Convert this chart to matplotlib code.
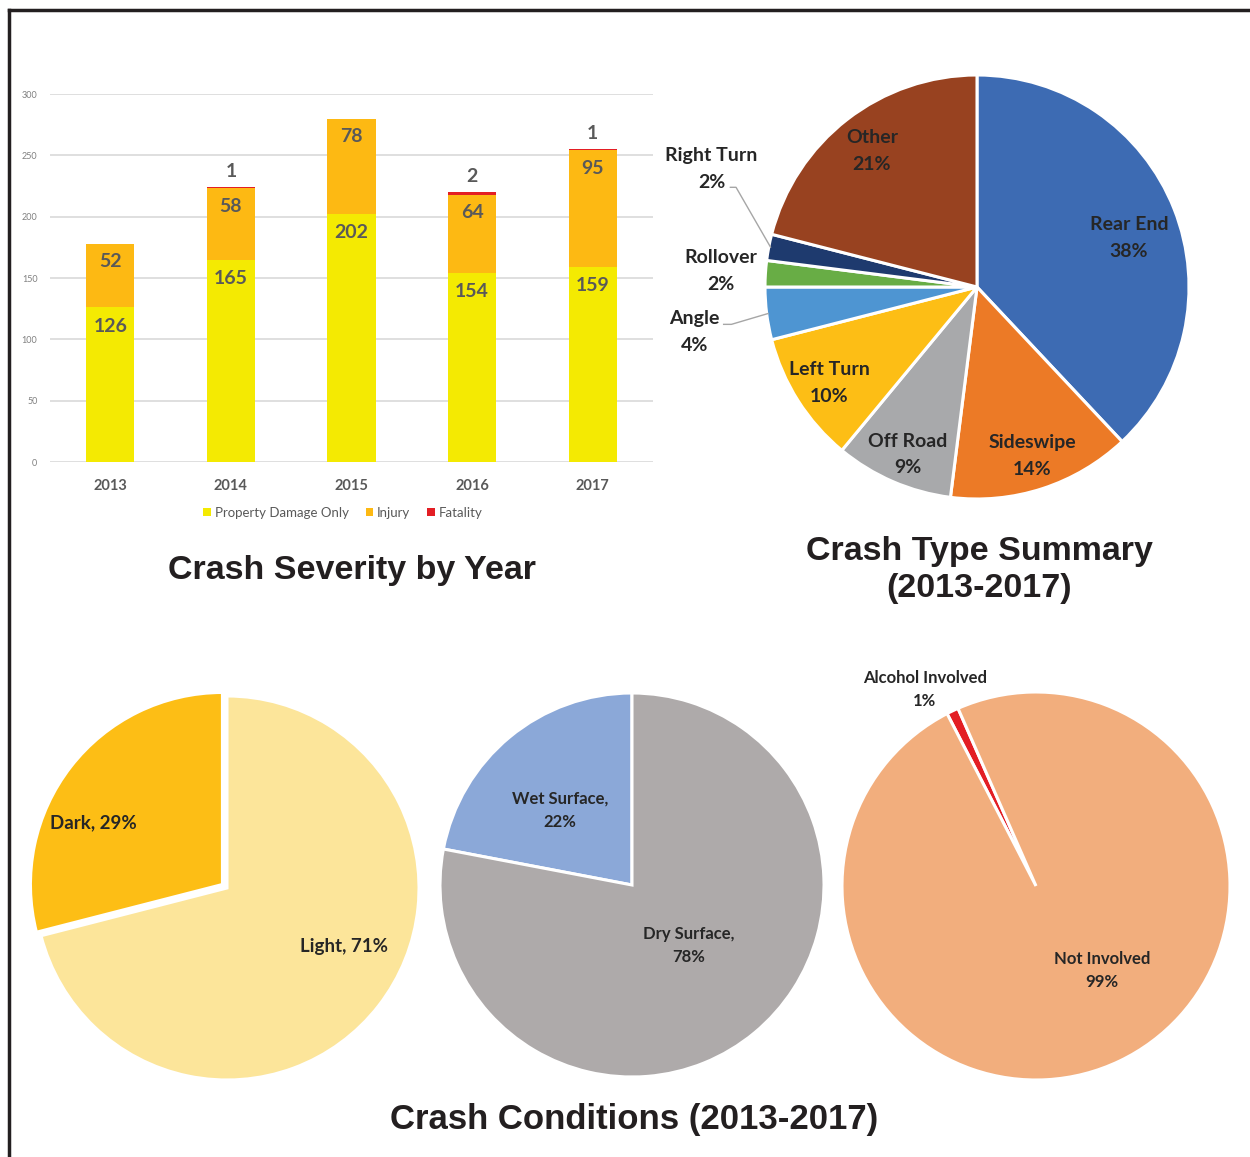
import numpy as np
import matplotlib.pyplot as plt
from matplotlib.lines import Line2D

plt.rcParams["font.family"] = ["Lato", "DejaVu Sans"]

W, H = 1250, 1157

# crash severity by year
years = ["2013", "2014", "2015", "2016", "2017"]
pdo = [126, 165, 202, 154, 159]
injury = [52, 58, 78, 64, 95]
fatality = [0, 1, 0, 2, 1]

# crash type summary (clockwise from 12 o'clock)
type_names = ["Rear End", "Sideswipe", "Off Road", "Left Turn", "Angle", "Rollover", "Right Turn", "Other"]
type_pct = [38, 14, 9, 10, 4, 2, 2, 21]
type_colors = ["#3D6BB3", "#EC7A26", "#A8A9AB", "#FDBE15", "#4E95D2", "#68AD45", "#1E3A6E", "#984220"]

# crash conditions
light_names = ["Dark", "Light"]
light_pct = [29, 71]
surface_names = ["Wet Surface", "Dry Surface"]
surface_pct = [22, 78]
alcohol_names = ["Alcohol Involved", "Not Involved"]
alcohol_pct = [1, 99]

TXT = "#262626"
LBL = "#595959"
TITLE_FONT = ["Liberation Sans", "DejaVu Sans"]

fig = plt.figure(figsize=(W / 100, H / 100), dpi=100, facecolor="white")


def px_axes(x0, y0, x1, y1):
    return fig.add_axes([x0 / W, 1 - y1 / H, (x1 - x0) / W, (y1 - y0) / H])


def pie_axes(cx, cy, r, pad=1.5):
    ax = px_axes(cx - pad * r, cy - pad * r, cx + pad * r, cy + pad * r)
    ax.patch.set_alpha(0)
    return ax, pad


def deg(a):
    return np.cos(np.radians(a)), np.sin(np.radians(a))


# ---------- bar chart ----------
ax = px_axes(50, 94, 653, 462)
x = np.arange(len(years))
bw = 0.4
bot2 = np.array(pdo) + np.array(injury)
ax.bar(x, pdo, bw, color="#F4EA02", label="Property Damage Only", zorder=2)
ax.bar(x, injury, bw, bottom=pdo, color="#FDB913", label="Injury", zorder=2)
ax.bar(x, fatality, bw, bottom=bot2, color="#E31E24", label="Fatality", zorder=2)
ax.set_xlim(-0.5, 4.5)
ax.set_ylim(0, 300)
ax.set_yticks(range(0, 301, 50))
ax.set_xticks(x, years)
ax.yaxis.grid(True, color="#D9D9D9", lw=1.2)
ax.set_axisbelow(True)
for s in ax.spines.values():
    s.set_visible(False)
ax.tick_params(axis="y", length=0, pad=9, labelsize=6.5, labelcolor="#808080")
ax.tick_params(axis="x", length=0, pad=12, labelsize=10.5, labelcolor=LBL)
for t in ax.get_xticklabels():
    t.set_fontweight("bold")

for i in range(len(years)):
    ax.annotate(str(pdo[i]), (x[i], pdo[i]), xytext=(0, -13.5), textcoords="offset points",
                ha="center", va="center", fontsize=14, fontweight="bold", color=LBL)
    ax.annotate(str(injury[i]), (x[i], bot2[i]), xytext=(0, -13), textcoords="offset points",
                ha="center", va="center", fontsize=14, fontweight="bold", color=LBL)
    if fatality[i] > 0:
        ax.annotate(str(fatality[i]), (x[i], bot2[i] + fatality[i]), xytext=(0, 11),
                    textcoords="offset points", ha="center", va="center",
                    fontsize=14, fontweight="bold", color=LBL)

ax.legend(loc="center", bbox_to_anchor=(343 / W, 1 - 513 / H), bbox_transform=fig.transFigure,
          ncol=3, frameon=False, fontsize=9.5, handlelength=0.55, handleheight=0.55,
          handletextpad=0.3, columnspacing=1.3, labelcolor=LBL)

fig.text(352 / W, 1 - 570 / H, "Crash Severity by Year", ha="center", va="center",
         fontsize=24.5, fontweight="bold", family=TITLE_FONT, color="#231F20")

# ---------- crash type pie ----------
axp, pad = pie_axes(977, 287, 212)
wedges, _ = axp.pie(type_pct, colors=type_colors, startangle=90, counterclock=False,
                    wedgeprops=dict(edgecolor="white", linewidth=2.2))
axp.set_xlim(-pad, pad)
axp.set_ylim(-pad, pad)
axp.axis("off")

# label placement: (radial distance, angle override)
type_lab = [(0.753, 17.9), (0.84, None), (0.855, -112.4), (0.83, -147),
            (1.35, -171), (1.21, None), (1.37, 156), (0.81, None)]
mids = [(w.theta1 + w.theta2) / 2 for w in wedges]
for i, w in enumerate(wedges):
    d, a = type_lab[i]
    a = mids[i] if a is None else a
    cx, cy = deg(a)
    axp.text(d * cx, d * cy, f"{type_names[i]}\n{type_pct[i]}%", ha="center", va="center",
             fontsize=14, fontweight="bold", color=TXT, linespacing=1.7)

# leader lines for Right Turn and Angle
for i, (ox, oy, kx) in {6: (0.085, -0.087, 0.03), 4: (0.135, 0.035, 0.04)}.items():
    d, a = type_lab[i]
    lx, ly = deg(a)
    lx, ly = d * lx, d * ly
    ex, ey = deg(mids[i])
    axp.plot([lx + ox, lx + ox + kx, 0.99 * ex], [ly + oy, ly + oy, 0.99 * ey],
             color="#A6A6A6", lw=1, solid_capstyle="butt")

fig.text(979 / W, 1 - 570 / H, "Crash Type Summary\n(2013-2017)", ha="center", va="center",
         fontsize=24.5, fontweight="bold", family=TITLE_FONT, color="#231F20", linespacing=1.24)


# ---------- crash conditions pies ----------
def cond_pie(cx, cy, r, vals, names, colors, start, explode, labs, fs, sep):
    a, pad = pie_axes(cx, cy, r)
    a.pie(vals, colors=colors, startangle=start, counterclock=True, explode=explode,
          wedgeprops=dict(edgecolor="white", linewidth=2.2))
    a.set_xlim(-pad, pad)
    a.set_ylim(-pad, pad)
    a.axis("off")
    for i in range(len(vals)):
        d, ang = labs[i]
        ux, uy = deg(ang)
        a.text(d * ux, d * uy, f"{names[i]}{sep[i]}{vals[i]}%", ha="center", va="center",
               fontsize=fs, fontweight="bold", color=TXT, linespacing=1.55)


cond_pie(227, 888, 192, light_pct, light_names, ["#FDBE15", "#FCE59A"], 90, [0.03, 0],
         [(0.776, 154), (0.68, -26.4)], 13.5, [", ", ", "])
cond_pie(632, 885, 192, surface_pct, surface_names, ["#8BA8D8", "#AEAAAA"], 90, [0, 0],
         [(0.54, 134), (0.43, -47)], 12, [",\n", ",\n"])
cond_pie(1036, 886, 194, alcohol_pct, alcohol_names, ["#E31E24", "#F2AE7D"], 113.7, [0, 0],
         [(1.165, 119.5), (0.55, -52)], 12, ["\n", "\n"])

fig.text(634 / W, 1 - 1120 / H, "Crash Conditions (2013-2017)", ha="center", va="center",
         fontsize=25, fontweight="bold", family=TITLE_FONT, color="#231F20")

# page frame
fig.add_artist(Line2D([9 / W, 9 / W], [0, 1 - 10 / H], color="#231F20", lw=2.5,
                      transform=fig.transFigure))
fig.add_artist(Line2D([9 / W, 1], [1 - 10 / H, 1 - 10 / H], color="#231F20", lw=2.5,
                      transform=fig.transFigure))

fig.savefig("out.png", dpi=100, facecolor="white")
